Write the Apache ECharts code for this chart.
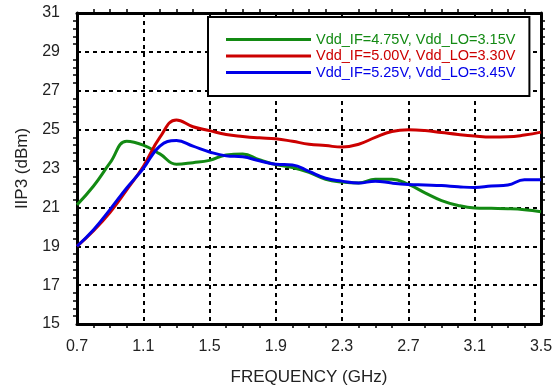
<!DOCTYPE html>
<html>
<head>
<meta charset="utf-8">
<script src="https://cdn.jsdelivr.net/npm/echarts@6/dist/echarts.min.js"></script>
<style>
  html, body { margin: 0; padding: 0; background: #fff; }
  #chart { width: 559px; height: 391px; }
</style>
</head>
<body>
<div id="chart"></div>
<script>
// frequency points (GHz)
const freqs = [0.7, 0.8, 0.9, 1.0, 1.1, 1.2, 1.3, 1.4, 1.5, 1.6, 1.7, 1.8, 1.9, 2.0, 2.1,
  2.2, 2.3, 2.4, 2.5, 2.6, 2.7, 2.8, 2.9, 3.0, 3.1, 3.2, 3.3, 3.4, 3.5];

// IIP3 (dBm) per supply setting
const iip3Low = [21.13, 22.1, 23.3, 24.4, 24.2, 23.75, 23.22, 23.3, 23.42, 23.7, 23.75, 23.45, 23.2, 23.05, 22.8,
  22.45, 22.3, 22.25, 22.45, 22.45, 22.18, 21.75, 21.35, 21.1, 20.97, 20.95, 20.93, 20.88, 20.78];
const iip3Mid = [19.0, 19.8, 20.75, 21.9, 23.1, 24.6, 25.5, 25.15, 24.95, 24.75, 24.65, 24.58, 24.53, 24.4, 24.25,
  24.18, 24.1, 24.25, 24.6, 24.9, 24.99, 24.95, 24.85, 24.75, 24.67, 24.62, 24.63, 24.72, 24.87];
const iip3High = [19.0, 19.85, 20.9, 22.0, 23.0, 24.15, 24.44, 24.15, 23.85, 23.65, 23.6, 23.4, 23.22, 23.18, 22.85,
  22.5, 22.35, 22.25, 22.35, 22.25, 22.18, 22.15, 22.12, 22.06, 22.02, 22.1, 22.15, 22.42, 22.42];

const seriesNames = ['Vdd_IF=4.75V, Vdd_LO=3.15V', 'Vdd_IF=5.00V, Vdd_LO=3.30V', 'Vdd_IF=5.25V, Vdd_LO=3.45V'];
const colors = ['#138a13', '#cc0000', '#0000e8'];

const font = 'Liberation Sans, Arial, sans-serif';

let chart = echarts.init(document.getElementById('chart'));

function pairs(ys) {
  return freqs.map((f, i) => [f, ys[i]]);
}

function makeX(pos, labels) {
  return {
    type: 'value', position: pos, min: 0.7, max: 3.5, interval: 0.4,
    axisLine: {show: true, onZero: false, lineStyle: {color: '#000', width: 3}},
    axisTick: {show: false},
    minorTick: {show: true, splitNumber: 4, length: 4, lineStyle: {color: '#000', width: 1.5}},
    axisLabel: {show: labels, color: '#222', fontSize: 16, fontFamily: font, margin: 15,
      formatter: (v) => v.toFixed(1)},
    splitLine: {show: labels, lineStyle: {color: '#000', width: 2, type: [4, 4]}}
  };
}

function makeY(pos, labels) {
  return {
    type: 'value', position: pos, min: 15, max: 31, interval: 2,
    axisLine: {show: true, onZero: false, lineStyle: {color: '#000', width: 3}},
    axisTick: {show: false},
    minorTick: {show: true, splitNumber: 5, length: 4, lineStyle: {color: '#000', width: 1.5}},
    axisLabel: {show: labels, color: '#222', fontSize: 16, fontFamily: font, margin: 17},
    splitLine: {show: labels, lineStyle: {color: '#000', width: 2, type: [4, 4]}}
  };
}

let xBottom = makeX('bottom', true);
xBottom.name = 'FREQUENCY (GHz)';
xBottom.nameLocation = 'middle';
xBottom.nameGap = 45;
xBottom.nameTextStyle = {color: '#222', fontSize: 17, fontFamily: font};
let yLeft = makeY('left', true);
yLeft.name = 'IIP3 (dBm)';
yLeft.nameLocation = 'middle';
yLeft.nameGap = 42;
yLeft.nameTextStyle = {color: '#222', fontSize: 17, fontFamily: font};

chart.setOption({
  animation: false,
  grid: {left: 77, right: 18, top: 13, bottom: 64},
  legend: {
    orient: 'vertical', left: 208, top: 17,
    backgroundColor: '#fff', borderColor: '#000', borderWidth: 2,
    padding: [15, 14, 16, 18],
    icon: 'rect', itemWidth: 85, itemHeight: 3, itemGap: 1.5,
    textStyle: {fontSize: 14.5, fontFamily: font},
    data: seriesNames.map((n, i) => ({name: n, textStyle: {color: colors[i]}}))
  },
  xAxis: [xBottom, makeX('top', false)],
  yAxis: [yLeft, makeY('right', false)],
  series: [iip3Low, iip3Mid, iip3High].map((ys, i) => ({
    name: seriesNames[i],
    type: 'line',
    smooth: 0.45,
    symbol: 'none',
    color: colors[i],
    lineStyle: {width: 3, color: colors[i]},
    data: pairs(ys),
    z: 3 + i
  }))
});
</script>
</body>
</html>
